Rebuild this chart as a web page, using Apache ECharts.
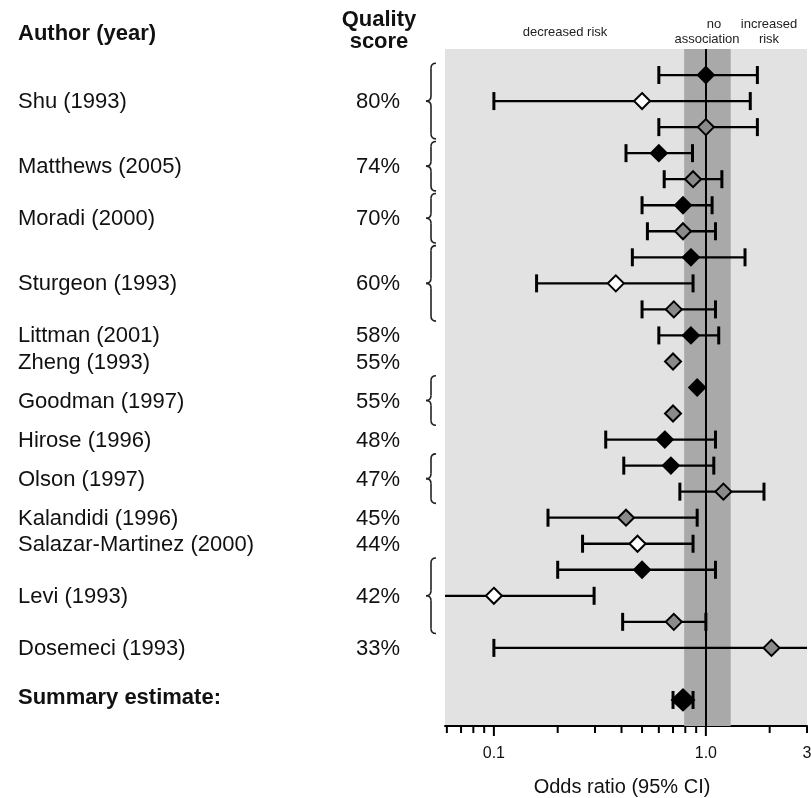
<!DOCTYPE html>
<html><head><meta charset="utf-8">
<script src="https://cdn.jsdelivr.net/npm/echarts@6/dist/echarts.min.js"></script>
<style>html,body{margin:0;padding:0;background:#fff}#c{width:811px;height:798px}</style>
</head><body><div id="c"></div>
<script>
// ---- data ----
const authors = ['Shu (1993)','Matthews (2005)','Moradi (2000)','Sturgeon (1993)','Littman (2001)','Zheng (1993)','Goodman (1997)','Hirose (1996)','Olson (1997)','Kalandidi (1996)','Salazar-Martinez (2000)','Levi (1993)','Dosemeci (1993)'];
const scores = ['80%','74%','70%','60%','58%','55%','55%','48%','47%','45%','44%','42%','33%'];
const labelRows = [1, 3.5, 5.5, 8, 10, 11, 12.5, 14, 15.5, 17, 18, 20, 22];
const rowOR   = [1.00, 0.50, 1.00, 0.60, 0.87, 0.78, 0.78, 0.85, 0.376, 0.706, 0.85, 0.70, 0.91, 0.70, 0.64, 0.684, 1.21, 0.42, 0.476, 0.50, 0.10, 0.706, 2.04];
const rowLow  = [0.60, 0.10, 0.60, 0.42, 0.636, 0.50, 0.53, 0.45, 0.159, 0.50, 0.60, null, null, null, 0.337, 0.41, 0.754, 0.18, 0.262, 0.20, 0.04, 0.405, 0.10];
const rowHigh = [1.75, 1.62, 1.75, 0.865, 1.19, 1.07, 1.11, 1.53, 0.87, 1.11, 1.15, null, null, null, 1.11, 1.09, 1.88, 0.91, 0.87, 1.11, 0.297, 1.00, 4.0];
const rowFill = ['black','white','gray','black','gray','black','gray','black','white','gray','black','gray','black','gray','black','black','gray','gray','white','black','white','gray','gray'];
const summaryRow = 24;
const summaryOR = 0.78, summaryLow = 0.70, summaryHigh = 0.87;
const braceGroups = [[0,2],[3,4],[5,6],[7,9],[12,13],[15,16],[19,21]];
const bandRange = [0.79, 1.31];
const tickVals = [0.06,0.07,0.08,0.09,0.1,0.2,0.3,0.4,0.5,0.6,0.7,0.8,0.9,1,2,3];
const majorTicks = [0.1, 1];
const tickLabelVals = [0.1, 1, 3];
const tickLabelTexts = ['0.1', '1.0', '3'];

const X_MIN = 0.0588, X_MAX = 3;
const ROW_MIN = -1, ROW_MAX = 25;
const FONT = '"Liberation Sans", Arial, sans-serif';
const TXT = '#111';
const fillColors = {black: '#000000', white: '#ffffff', gray: '#8a8a8a'};

const errData = [];
rowOR.forEach((v, i) => { if (rowLow[i] != null) errData.push([rowLow[i], rowHigh[i], i]); });
errData.push([summaryLow, summaryHigh, summaryRow]);

const markerData = rowOR.map((v, i) => ({value: [v, i], itemStyle: {color: fillColors[rowFill[i]]}}));
markerData.push({value: [summaryOR, summaryRow], symbolSize: [22, 21], itemStyle: {color: '#000'}});

const chart = echarts.init(document.getElementById('c'));
chart.setOption({
  animation: false,
  backgroundColor: '#ffffff',
  grid: {left: 445, right: 4, top: 49, bottom: 72, show: true, backgroundColor: '#e2e2e2', borderWidth: 0},
  xAxis: {type: 'log', logBase: 10, min: X_MIN, max: X_MAX,
    axisLine: {show: true, onZero: false, lineStyle: {color: '#000', width: 2}},
    axisTick: {show: false}, axisLabel: {show: false}, splitLine: {show: false}, minorTick: {show: false}},
  yAxis: {type: 'value', inverse: true, min: ROW_MIN, max: ROW_MAX, show: false},
  graphic: [
    {type: 'text', x: 18, y: 34, style: {text: 'Author (year)', font: 'bold 22px ' + FONT, fill: TXT, align: 'left', verticalAlign: 'middle'}},
    {type: 'text', x: 379, y: 20, style: {text: 'Quality', font: 'bold 22px ' + FONT, fill: TXT, align: 'center', verticalAlign: 'middle'}},
    {type: 'text', x: 379, y: 42, style: {text: 'score', font: 'bold 22px ' + FONT, fill: TXT, align: 'center', verticalAlign: 'middle'}},
    {type: 'text', x: 565, y: 32, style: {text: 'decreased risk', font: '13px ' + FONT, fill: '#222', align: 'center', verticalAlign: 'middle'}},
    {type: 'text', x: 714, y: 24, style: {text: 'no', font: '13px ' + FONT, fill: '#222', align: 'center', verticalAlign: 'middle'}},
    {type: 'text', x: 707, y: 39, style: {text: 'association', font: '13px ' + FONT, fill: '#222', align: 'center', verticalAlign: 'middle'}},
    {type: 'text', x: 769, y: 24, style: {text: 'increased', font: '13px ' + FONT, fill: '#222', align: 'center', verticalAlign: 'middle'}},
    {type: 'text', x: 769, y: 39, style: {text: 'risk', font: '13px ' + FONT, fill: '#222', align: 'center', verticalAlign: 'middle'}},
    {type: 'text', x: 622, y: 787, style: {text: 'Odds ratio (95% CI)', font: '20px ' + FONT, fill: TXT, align: 'center', verticalAlign: 'middle'}}
  ],
  series: [
    {type: 'line', data: [], z: 1, silent: true,
      markArea: {silent: true, itemStyle: {color: '#a9a9a9'}, data: [[{xAxis: bandRange[0]}, {xAxis: bandRange[1]}]]}},
    {type: 'line', data: [], z: 3, silent: true,
      markLine: {silent: true, symbol: ['none', 'none'], label: {show: false}, lineStyle: {color: '#000', width: 2, type: 'solid'}, data: [{xAxis: 1}]}},
    {type: 'custom', z: 5, clip: true, silent: true, data: errData, encode: {x: [0, 1], y: 2},
      renderItem: (params, api) => {
        const r = api.value(2);
        const pl = api.coord([api.value(0), r]);
        const ph = api.coord([api.value(1), r]);
        const y = pl[1], h = 9;
        const st = {stroke: '#000', lineWidth: 2.3};
        const cs = {stroke: '#000', lineWidth: 3};
        return {type: 'group', children: [
          {type: 'line', shape: {x1: pl[0], y1: y, x2: ph[0], y2: y}, style: st},
          {type: 'line', shape: {x1: pl[0], y1: y - h, x2: pl[0], y2: y + h}, style: cs},
          {type: 'line', shape: {x1: ph[0], y1: y - h, x2: ph[0], y2: y + h}, style: cs}
        ]};
      }},
    {type: 'scatter', z: 10, silent: true, symbol: 'diamond', symbolSize: [16, 16], clip: false,
      itemStyle: {borderColor: '#000', borderWidth: 2, opacity: 1}, data: markerData},
    {type: 'custom', z: 6, clip: false, silent: true, data: tickVals.map(v => [v, ROW_MAX]), encode: {x: 0, y: 1},
      renderItem: (params, api) => {
        const v = api.value(0);
        const p = api.coord([v, api.value(1)]);
        const len = majorTicks.indexOf(v) >= 0 ? 10 : 7;
        return {type: 'line', shape: {x1: p[0], y1: p[1], x2: p[0], y2: p[1] + len}, style: {stroke: '#000', lineWidth: 2}};
      }},
    {type: 'custom', z: 6, clip: false, silent: true, data: tickLabelVals.map((v, i) => [v, ROW_MAX, i]), encode: {x: 0, y: 1},
      renderItem: (params, api) => {
        const p = api.coord([api.value(0), api.value(1)]);
        return {type: 'text', x: p[0], y: p[1] + 28, style: {text: tickLabelTexts[api.value(2)], font: '16px ' + FONT, fill: TXT, align: 'center', verticalAlign: 'middle'}};
      }},
    {type: 'custom', z: 6, clip: false, silent: true, data: labelRows.map((r, i) => [X_MIN, r, i]), encode: {x: 0, y: 1},
      renderItem: (params, api) => {
        const p = api.coord([api.value(0), api.value(1)]);
        const i = api.value(2);
        return {type: 'group', children: [
          {type: 'text', x: 18, y: p[1] + 1, style: {text: authors[i], font: '22px ' + FONT, fill: TXT, align: 'left', verticalAlign: 'middle'}},
          {type: 'text', x: 400, y: p[1] + 1, style: {text: scores[i], font: '22px ' + FONT, fill: TXT, align: 'right', verticalAlign: 'middle'}}
        ]};
      }},
    {type: 'custom', z: 6, clip: false, silent: true, data: [[X_MIN, summaryRow]], encode: {x: 0, y: 1},
      renderItem: (params, api) => {
        const p = api.coord([api.value(0), api.value(1)]);
        return {type: 'text', x: 18, y: p[1] - 2, style: {text: 'Summary estimate:', font: 'bold 22px ' + FONT, fill: TXT, align: 'left', verticalAlign: 'middle'}};
      }},
    {type: 'custom', z: 6, clip: false, silent: true, data: braceGroups.map(g => [X_MIN, g[0], g[1]]), encode: {x: 0, y: 1},
      renderItem: (params, api) => {
        const top = api.coord([api.value(0), api.value(1) - 0.45]);
        const bot = api.coord([api.value(0), api.value(2) + 0.45]);
        const xe = top[0];
        const xv = xe - 14, xt = xe - 19, xend = xe - 9;
        const y0 = top[1], y1 = bot[1], ym = (y0 + y1) / 2, r = 5;
        const st = {stroke: '#222', lineWidth: 1.6, fill: null};
        return {type: 'group', children: [
          {type: 'bezierCurve', shape: {x1: xend, y1: y0, x2: xv, y2: y0 + r, cpx1: xv, cpy1: y0}, style: st},
          {type: 'line', shape: {x1: xv, y1: y0 + r, x2: xv, y2: ym - r}, style: st},
          {type: 'bezierCurve', shape: {x1: xv, y1: ym - r, x2: xt, y2: ym, cpx1: xv, cpy1: ym}, style: st},
          {type: 'bezierCurve', shape: {x1: xt, y1: ym, x2: xv, y2: ym + r, cpx1: xv, cpy1: ym}, style: st},
          {type: 'line', shape: {x1: xv, y1: ym + r, x2: xv, y2: y1 - r}, style: st},
          {type: 'bezierCurve', shape: {x1: xv, y1: y1 - r, x2: xend, y2: y1, cpx1: xv, cpy1: y1}, style: st}
        ]};
      }}
  ]
});
</script></body></html>
